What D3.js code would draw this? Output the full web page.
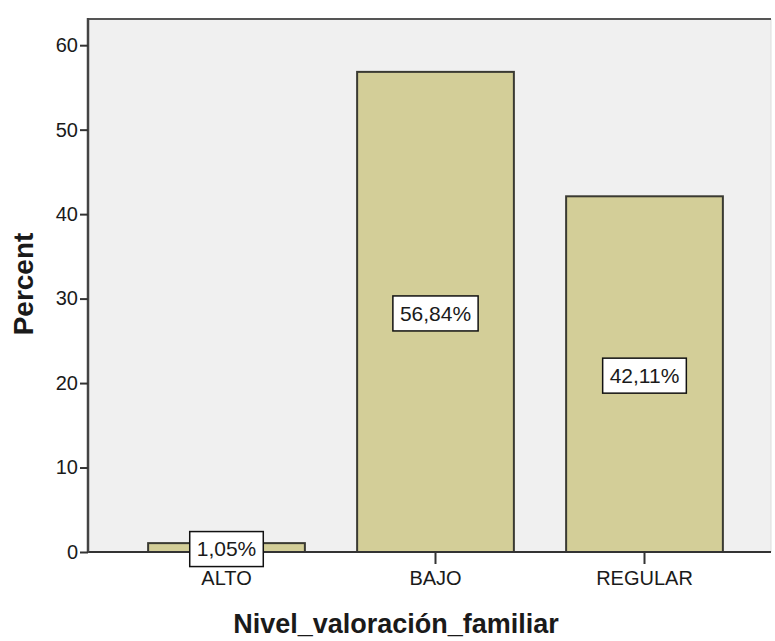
<!DOCTYPE html>
<meta charset="utf-8">
<html>
<head>
<script src="https://d3js.org/d3.v7.min.js" charset="utf-8"></script>
</head>
<style>
body { margin: 0; background: #fff; }
svg text { font-family: "Liberation Sans", Arial, sans-serif; fill: #1a1a1a; }
.axis text { font-size: 20px; }
.axis line { stroke: #333; stroke-width: 2px; }
.axis path { display: none; }
.bar rect { fill: #d3ce98; stroke: #3a3a32; stroke-width: 2px; }
.lbl rect { fill: #fff; stroke: #111; stroke-width: 1.5px; }
.lbl text { font-size: 21px; }
.title { font-weight: bold; }
</style>
<body>
<svg width="775" height="641"></svg>
<script type="text/javascript">
// values
var categories = ["ALTO", "BAJO", "REGULAR"];
var percents = [1.05, 56.84, 42.11];
var labels = ["1,05%", "56,84%", "42,11%"];
var yTicks = [0, 10, 20, 30, 40, 50, 60];

var svg = d3.select("svg"),
    plotL = 88, plotT = 19, plotR = 771, plotB = 552;

var y = d3.scaleLinear()
    .domain([0, 63.1])
    .range([plotB, plotT]);

var x = d3.scaleBand()
    .domain(categories)
    .range([122, 749])
    .paddingInner(0.25)
    .paddingOuter(0.125);

// plot background + frame
svg.append("rect")
    .attr("x", plotL).attr("y", plotT)
    .attr("width", plotR - plotL).attr("height", plotB - plotT)
    .attr("fill", "#f0f0f0");
svg.append("line").attr("x1", plotR).attr("x2", plotR).attr("y1", plotT).attr("y2", plotB)
    .attr("stroke", "#ddd").attr("stroke-width", 1);
svg.append("line").attr("x1", plotL).attr("x2", plotR).attr("y1", plotT).attr("y2", plotT)
    .attr("stroke", "#555").attr("stroke-width", 2);

var bar = svg.selectAll(".bar")
  .data(percents)
  .enter().append("g")
    .attr("class", "bar");

bar.append("rect")
    .attr("x", function(d, i) { return x(categories[i]); })
    .attr("y", function(d) { return y(d); })
    .attr("width", x.bandwidth())
    .attr("height", function(d) { return plotB - y(d); });

// axes lines
svg.append("line").attr("x1", plotL).attr("x2", plotR).attr("y1", plotB).attr("y2", plotB)
    .attr("stroke", "#333").attr("stroke-width", 2);
svg.append("line").attr("x1", plotL).attr("x2", plotL).attr("y1", plotT - 1).attr("y2", plotB + 1)
    .attr("stroke", "#444").attr("stroke-width", 2.5);

svg.append("g")
    .attr("class", "axis")
    .attr("transform", "translate(" + plotL + ",0)")
    .call(d3.axisLeft(y).tickValues(yTicks).tickSize(8).tickPadding(2));

svg.append("g")
    .attr("class", "axis")
    .attr("transform", "translate(0," + plotB + ")")
    .call(d3.axisBottom(x).tickSize(12).tickPadding(7));

// value labels
var lbl = svg.selectAll(".lbl")
  .data(percents)
  .enter().append("g")
    .attr("class", "lbl")
    .attr("transform", function(d, i) {
      return "translate(" + (x(categories[i]) + x.bandwidth() / 2) + "," + ((y(d) + plotB) / 2 + 1.5) + ")";
    });

lbl.append("text")
    .attr("text-anchor", "middle")
    .attr("dy", "0.35em")
    .text(function(d, i) { return labels[i]; });

lbl.insert("rect", "text")
    .each(function() {
      var w = this.parentNode.querySelector("text").getComputedTextLength() + 14;
      d3.select(this).attr("x", -w / 2).attr("width", w).attr("y", -17.5).attr("height", 35);
    });

svg.append("text")
    .attr("class", "title")
    .attr("transform", "translate(33,284) rotate(-90)")
    .attr("text-anchor", "middle")
    .style("font-size", "28px")
    .text("Percent");

svg.append("text")
    .attr("class", "title")
    .attr("x", 396)
    .attr("y", 633)
    .attr("text-anchor", "middle")
    .style("font-size", "27px")
    .text("Nivel_valoración_familiar");
</script>
</body>
</html>
